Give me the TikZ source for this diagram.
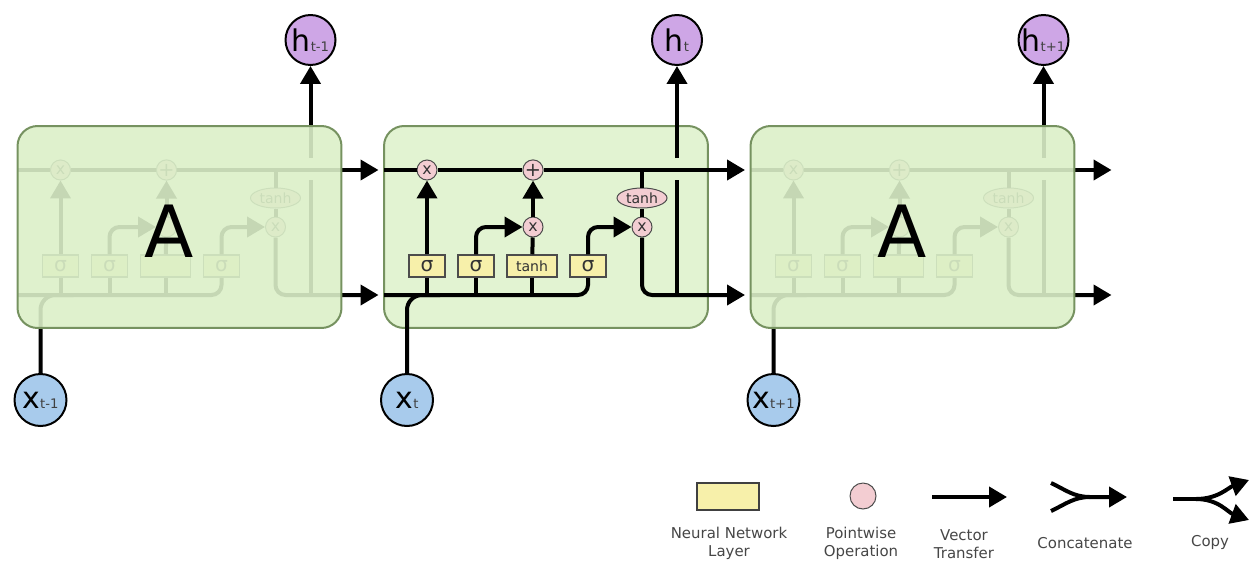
\documentclass[tikz,border=0pt]{standalone}
\usepackage{fontspec}
\setmainfont{DejaVu Sans}
\usetikzlibrary{arrows.meta,shapes.geometric}

\definecolor{cellfill}{RGB}{226,243,210}
\definecolor{fadefill}{RGB}{219,239,200}
\definecolor{celledge}{RGB}{118,146,96}
\definecolor{layerfill}{RGB}{247,240,170}
\definecolor{opfill}{RGB}{243,205,210}
\definecolor{hfill}{RGB}{206,166,230}
\definecolor{xfill}{RGB}{168,203,236}
\definecolor{labelgray}{RGB}{70,70,70}

\tikzset{
	vec/.style={-{Triangle[length=0.36cm,width=0.4cm]}},
	cellbox/.style={rectangle, draw=celledge, line width=0.04cm, rounded corners=0.4cm,
		minimum width=6.48cm, minimum height=4.04cm, inner sep=0pt},
	nnlayer/.style={rectangle, draw=black!70, line width=0.03cm, fill=layerfill,
		minimum width=0.72cm, minimum height=0.44cm, inner sep=0pt, text=black!80},
	op/.style={circle, draw=black!70, line width=0.02cm, fill=opfill,
		minimum size=0.4cm, inner sep=0pt, text=black!80, font=\fontsize{9}{9}\selectfont},
	opell/.style={ellipse, draw=black!70, line width=0.02cm, fill=opfill,
		minimum width=1cm, minimum height=0.4cm, inner sep=0pt, text=black!80, font=\fontsize{8}{8}\selectfont},
	hout/.style={circle, draw=black, line width=0.04cm, fill=hfill, minimum size=1cm, inner sep=0pt},
	xin/.style={circle, draw=black, line width=0.04cm, fill=xfill, minimum size=1.04cm, inner sep=0pt},
	legend/.style={align=center, text=labelgray, font=\fontsize{8.5}{10.2}\selectfont}
}

\begin{document}
\begin{tikzpicture}[x=0.02cm, y=-0.02cm, line width=0.08cm]
	\useasboundingbox (0,0) rectangle (1260,568);

	% middle cell, drawn first so its insides sit on top
	\node (cellM) at (546,227) [cellbox, fill=cellfill] {};

	% the insides of each cell (the outer two get covered later)
	\foreach \i/\dx/\tsub/\tbtext/\mtext in {L/-366.5/t-1/{}/{}, M/0/t/tanh/x, R/366.5/t+1/{}/{}} {
	\begin{scope}[shift={(\dx,0)}]
		\coordinate (cin\i)  at (384,170);
		\coordinate (cout\i) at (745,170);
		\coordinate (hin\i)  at (384,295);
		\coordinate (hex\i)  at (745,295);
		\coordinate (xj\i)   at (440,295);
		\coordinate (br\i)   at (642,170);
		\coordinate (hj\i)   at (677,295);
		\coordinate (hg1\i)  at (677,180);
		\coordinate (hg2\i)  at (677,158);

		\node (m1\i)  at (427,170) [op] {x};
		\node (add\i) at (533,170) [op, font=\fontsize{11}{11}\selectfont] {+};
		\node (m2\i)  at (533,227) [op] {\mtext};
		\node (th\i)  at (642,198) [opell] {tanh};
		\node (m3\i)  at (642,227) [op] {x};

		\node (s1\i) at (427,266) [nnlayer, font=\fontsize{11.5}{11.5}\selectfont] {σ};
		\node (s2\i) at (476,266) [nnlayer, font=\fontsize{11.5}{11.5}\selectfont] {σ};
		\node (tb\i) at (532,266) [nnlayer, minimum width=1cm, font=\fontsize{8}{8}\selectfont] {\tbtext};
		\node (s3\i) at (588,266) [nnlayer, font=\fontsize{11.5}{11.5}\selectfont] {σ};

		\node (h\i) at (677,40)  [hout] {{\fontsize{17}{17}\selectfont h}{\fontsize{7.5}{7.5}\selectfont\color{black!75}\tsub}};
		\node (x\i) at (407,400) [xin]  {{\fontsize{17}{17}\selectfont x}{\fontsize{7.5}{7.5}\selectfont\color{black!75}\tsub}};

		% cell state
		\draw[vec] (cin\i) -- (m1\i) -- (add\i) -- (cout\i);
		\draw (br\i) -- (th\i) -- (m3\i);
		% hidden state and input
		\draw[rounded corners=0.2cm] (hin\i) -| (s3\i);
		\draw[rounded corners=0.3cm] (x\i) |- (xj\i);
		\draw (s1\i) -- (s1\i |- hin\i);
		\draw (s2\i) -- (s2\i |- hin\i);
		\draw (tb\i) -- (tb\i |- hin\i);
		% gates
		\draw[vec] (s1\i) -- (m1\i);
		\draw[vec, rounded corners=0.2cm] (s2\i) |- (m2\i);
		\draw (tb\i) -- (m2\i);
		\draw[vec] (m2\i) -- (add\i);
		\draw[vec, rounded corners=0.2cm] (s3\i) |- (m3\i);
		% output
		\draw[vec, rounded corners=0.2cm] (m3\i) |- (hex\i);
		\draw (hj\i) -- (hg1\i);
		\draw[vec] (hg2\i) -- (h\i);
	\end{scope}
	}

	% the outer cells, faded
	\node (cellL) at (179.5,227) [cellbox, fill=fadefill, fill opacity=0.9] {};
	\node (cellR) at (912.5,227) [cellbox, fill=fadefill, fill opacity=0.9] {};
	\node (AL) at (169,231.5) {\fontsize{41}{41}\selectfont A};
	\node (AR) at (902,231.5) {\fontsize{41}{41}\selectfont A};

	% legend
	\node (lgbox)  at (728,496.5) [nnlayer, draw=black!75, line width=0.04cm, minimum width=1.24cm, minimum height=0.54cm] {};
	\node (lgop)   at (863,496) [op, minimum size=0.52cm] {};
	\coordinate (vt1) at (932,497);
	\coordinate (vt2) at (1007,497);
	\draw[vec] (vt1) -- (vt2);
	\coordinate (ca) at (1051,483);
	\coordinate (cb) at (1051,511);
	\coordinate (cm) at (1090,497);
	\coordinate (ce) at (1127,497);
	\draw[vec] (ca) to[out=-25,in=180] (cm) -- (ce);
	\draw (cb) to[out=25,in=180] (cm);
	\coordinate (cp0) at (1173,499);
	\coordinate (cpm) at (1196,499);
	\coordinate (cpu) at (1249,480);
	\coordinate (cpd) at (1249,520);
	\draw (cp0) -- (cpm);
	\draw[vec] (cpm) to[out=0,in=200] (cpu);
	\draw[vec] (cpm) to[out=0,in=160] (cpd);

	\node (lbnn) at (729,543) [legend] {Neural Network\\Layer};
	\node (lbpw) at (861,543) [legend] {Pointwise\\Operation};
	\node (lbvt) at (964,544) [legend] {Vector\\Transfer};
	\node (lbcc) at (1085,543) [legend] {Concatenate};
	\node (lbcp) at (1210,543) [legend] {Copy};
\end{tikzpicture}
\end{document}
